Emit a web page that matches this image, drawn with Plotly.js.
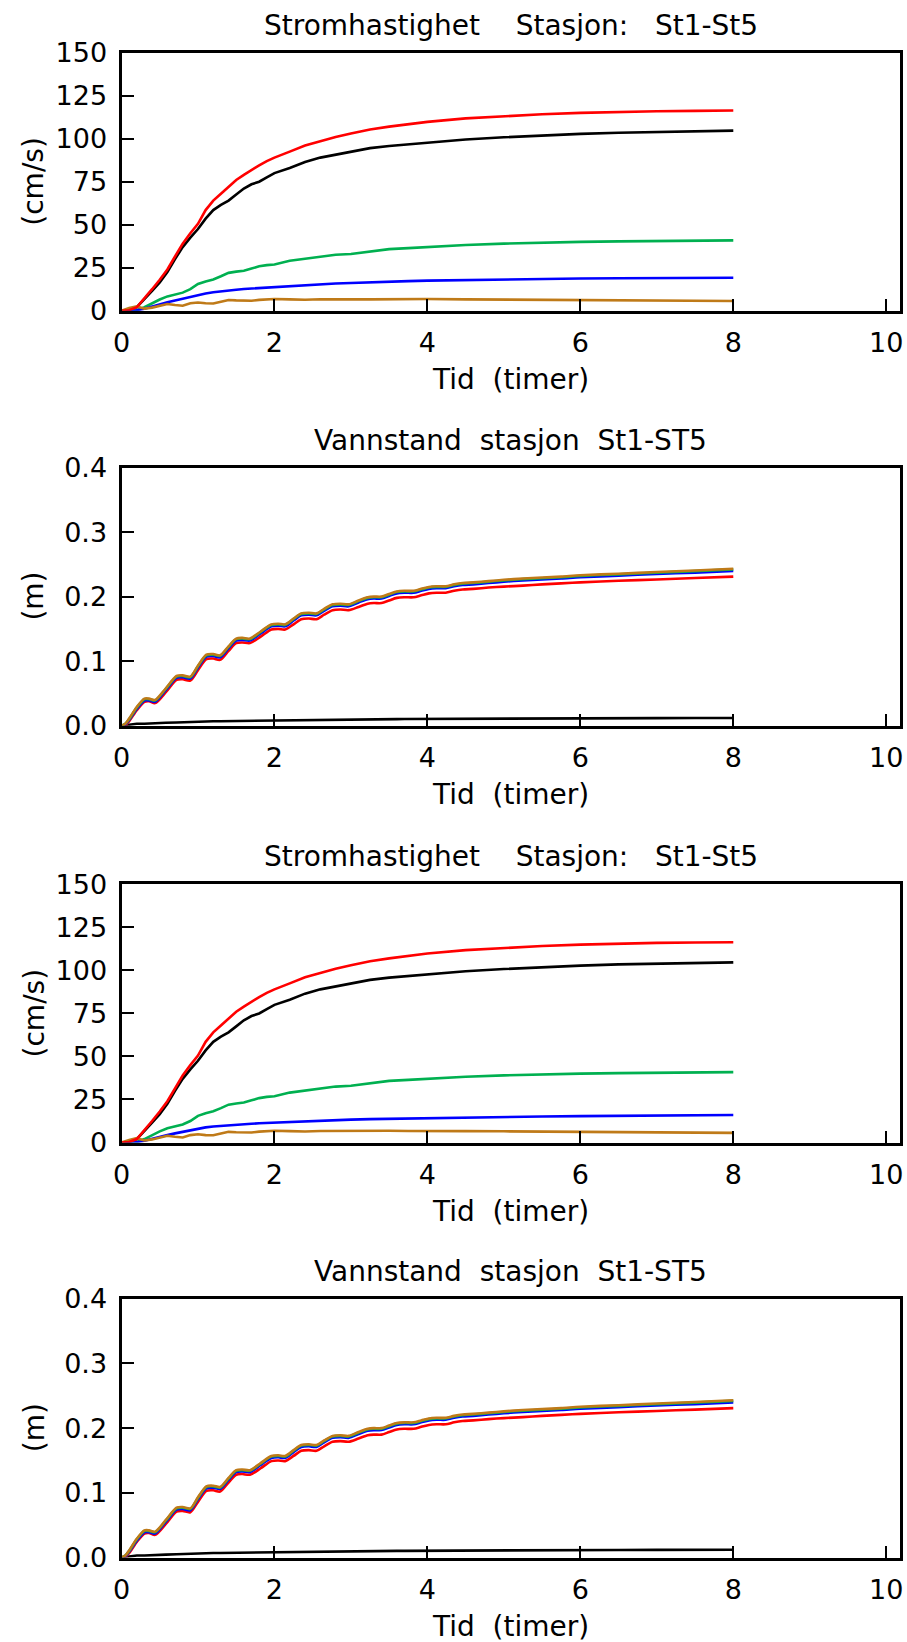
<!DOCTYPE html>
<html>
<head>
<meta charset="utf-8">
<script src="https://cdn.plot.ly/plotly-3.0.1.min.js"></script>
<style>
html,body{margin:0;padding:0;background:#fff;}
#chart{width:907px;height:1642px;}
</style>
</head>
<body>
<div id="chart"></div>
<script>
// ---------- Data ----------
const titleVel = "Stromhastighet\u00a0\u00a0\u00a0\u00a0Stasjon:\u00a0\u00a0\u00a0St1-St5";
const titleWL = "Vannstand\u00a0\u00a0stasjon\u00a0\u00a0St1-ST5";
const xTitle = "Tid\u00a0\u00a0(timer)";
const yTitleVel = "(cm/s)";
const yTitleWL = "(m)";

const xTickVals = [0, 2, 4, 6, 8, 10];
const velTickVals = [0, 25, 50, 75, 100, 125, 150];
const wlTickVals = [0, 0.1, 0.2, 0.3, 0.4];
const wlTickText = ["0.0", "0.1", "0.2", "0.3", "0.4"];

// time (hours) for current-speed series
const tVel = [0,0.1,0.2,0.3,0.4,0.5,0.6,0.7,0.8,0.9,1.0,1.1,1.2,1.3,1.4,1.5,1.6,1.7,1.8,1.9,2.0,2.2,2.4,2.6,2.8,3.0,3.25,3.5,3.75,4.0,4.5,5.0,5.5,6.0,6.5,7.0,7.5,8.0];

const velRed = [0,0.3,2,7,12.5,18,24,31.5,39,45,50.5,58.5,64,68,72,76,79,82,84.5,87,89,92.5,96,98.5,101,103,105.3,107,108.5,109.8,111.8,113.2,114.2,115,115.6,116,116.2,116.4];
const velBlack = [0,0.3,2,6.5,11.5,16.5,22.5,30,37,42.5,47.5,53.5,58.5,61.5,64,67.5,71,73.5,75,77.5,80,83,86.5,89,90.8,92.5,94.5,95.8,96.8,97.8,99.5,100.8,102,102.8,103.5,104,104.4,104.7];
const velGreen = [0,0,0.3,2,4.5,6.5,8.3,9.5,10.5,12.5,15.5,17,18.2,20,22,22.7,23.2,24.5,25.8,26.5,26.9,29,30.2,31.2,32.5,33,34.5,35.8,36.4,37.1,38.2,39,39.6,40,40.3,40.6,40.8,40.9];
const velBlue1 = [0,0,0.2,1.2,2.5,3.8,4.9,5.9,7,8,9,10,10.7,11.3,11.8,12.2,12.6,12.9,13.2,13.4,13.7,14.3,14.9,15.3,15.8,16.1,16.6,16.9,17.2,17.5,17.9,18.2,18.5,18.7,18.9,19,19.1,19.2];
const velBlue3 = [0,0,0.2,1,2.2,3.3,4.3,5.3,6.2,7.2,8.1,8.8,9.3,9.7,10.1,10.4,10.7,10.9,11.2,11.4,11.6,12,12.4,12.7,13,13.3,13.6,13.8,14,14.2,14.6,14.9,15.1,15.3,15.5,15.7,15.85,16];
const velBrown = [0,1.5,2.5,1.2,1.8,2.8,3.9,3.3,2.9,4.3,4.8,4.3,4.2,5.2,6.2,6,5.7,5.8,6.3,6.7,6.8,6.6,6.4,6.7,6.8,6.6,6.6,6.8,6.7,6.8,6.6,6.5,6.3,6.2,6.0,5.9,5.7,5.6];

// time (hours) for water-level series
const tWL = [0,0.05,0.1,0.2,0.3,0.36,0.44,0.58,0.72,0.8,0.9,1.0,1.11,1.2,1.29,1.4,1.5,1.58,1.68,1.82,1.96,2.05,2.14,2.25,2.35,2.45,2.55,2.65,2.76,2.86,2.97,3.1,3.22,3.3,3.4,3.5,3.6,3.7,3.82,3.92,4.02,4.12,4.24,4.35,4.46,4.6,4.8,5.0,5.25,5.5,5.75,6.0,6.5,7.0,7.5,8.0];

const wlBrown = [0,0.003,0.011,0.029,0.042,0.042,0.040,0.058,0.077,0.078,0.076,0.093,0.110,0.111,0.109,0.123,0.135,0.136,0.135,0.146,0.157,0.158,0.157,0.166,0.174,0.175,0.174,0.181,0.188,0.189,0.188,0.194,0.199,0.200,0.200,0.204,0.208,0.209,0.209,0.212,0.215,0.216,0.216,0.219,0.221,0.222,0.224,0.226,0.228,0.2295,0.231,0.233,0.2355,0.238,0.2405,0.2432];
const wlGreen = [0,0.003,0.010,0.028,0.041,0.041,0.039,0.057,0.076,0.077,0.075,0.092,0.109,0.110,0.108,0.122,0.134,0.135,0.134,0.145,0.156,0.157,0.156,0.165,0.173,0.174,0.173,0.180,0.187,0.188,0.187,0.193,0.198,0.199,0.199,0.203,0.207,0.208,0.208,0.211,0.214,0.215,0.215,0.218,0.220,0.221,0.223,0.225,0.227,0.2285,0.230,0.232,0.2345,0.237,0.2395,0.2422];
const wlBlue = [0,0.002,0.009,0.026,0.039,0.039,0.037,0.055,0.074,0.075,0.073,0.090,0.107,0.108,0.106,0.120,0.132,0.133,0.132,0.143,0.154,0.155,0.154,0.163,0.171,0.172,0.171,0.178,0.185,0.186,0.185,0.191,0.196,0.197,0.197,0.201,0.205,0.206,0.206,0.209,0.212,0.213,0.213,0.216,0.218,0.219,0.221,0.223,0.225,0.2265,0.228,0.230,0.2325,0.235,0.2372,0.2396];
const wlRed = [0,0.001,0.007,0.024,0.037,0.038,0.035,0.052,0.071,0.072,0.070,0.086,0.103,0.104,0.102,0.116,0.128,0.129,0.128,0.138,0.149,0.150,0.149,0.157,0.165,0.166,0.165,0.172,0.179,0.180,0.179,0.184,0.189,0.190,0.190,0.194,0.198,0.199,0.199,0.202,0.205,0.206,0.206,0.209,0.211,0.212,0.214,0.2155,0.217,0.219,0.2205,0.222,0.2245,0.2265,0.2287,0.2310];
const wlBlack = [0,0.001,0.002,0.003,0.003,0.0035,0.004,0.0045,0.005,0.0055,0.006,0.0065,0.0068,0.007,0.007,0.0072,0.0074,0.0076,0.0078,0.008,0.0082,0.0083,0.0084,0.0086,0.0087,0.0088,0.009,0.009,0.0092,0.0093,0.0094,0.0096,0.0098,0.0099,0.01,0.0101,0.0102,0.0103,0.0104,0.0105,0.0106,0.0107,0.0108,0.0109,0.011,0.011,0.0111,0.0112,0.0113,0.0114,0.0115,0.0116,0.0117,0.0118,0.0119,0.012];

// ---------- Styling ----------
const C = {
  black: "#000000",
  red: "#ff0000",
  green: "#00b050",
  blue: "#0000ff",
  brown: "#bf7a18"
};
const FONT = "DejaVu Sans, Liberation Sans, sans-serif";
const W = 907, H = 1642;
const LW = 2.6;
const TITLE_SIZE = 28;
const TICK_SIZE = 27;

// pixel layout of each panel (top, bottom)
const panels = [
  {top: 52.7, bot: 310.7},
  {top: 467.5, bot: 725.7},
  {top: 884.4, bot: 1142.5},
  {top: 1298.8, bot: 1557.5}
];
const xL = 121.5, xR = 900;

function line(x, y, color, ax, smooth) {
  const ln = {color: color, width: LW};
  if (smooth) { ln.shape = "spline"; ln.smoothing = 0.8; }
  return {x: x, y: y, type: "scatter", mode: "lines", xaxis: "x" + ax, yaxis: "y" + ax,
    line: ln, hoverinfo: "skip", showlegend: false};
}

const data = [
  // panel 1 : current speed
  line(tVel, velBlack, C.black, "", false),
  line(tVel, velGreen, C.green, "", false),
  line(tVel, velBlue1, C.blue, "", false),
  line(tVel, velBrown, C.brown, "", false),
  line(tVel, velRed, C.red, "", false),
  // panel 2 : water level
  line(tWL, wlBlack, C.black, "2", false),
  line(tWL, wlRed, C.red, "2", true),
  line(tWL, wlBlue, C.blue, "2", true),
  line(tWL, wlGreen, C.green, "2", true),
  line(tWL, wlBrown, C.brown, "2", true),
  // panel 3 : current speed
  line(tVel, velBlack, C.black, "3", false),
  line(tVel, velGreen, C.green, "3", false),
  line(tVel, velBlue3, C.blue, "3", false),
  line(tVel, velBrown, C.brown, "3", false),
  line(tVel, velRed, C.red, "3", false),
  // panel 4 : water level
  line(tWL, wlBlack, C.black, "4", false),
  line(tWL, wlRed, C.red, "4", true),
  line(tWL, wlBlue, C.blue, "4", true),
  line(tWL, wlGreen, C.green, "4", true),
  line(tWL, wlBrown, C.brown, "4", true)
];

function xAxis(i) {
  return {
    domain: [xL / W, xR / W],
    anchor: i === 0 ? "y" : "y" + (i + 1),
    range: [0, 10.18],
    tickvals: xTickVals,
    ticks: "inside", ticklen: 12, tickwidth: 2, tickcolor: "#000",
    showline: true, linewidth: 3, linecolor: "#000", mirror: true,
    showgrid: false, zeroline: false,
    tickfont: {family: FONT, size: TICK_SIZE, color: "#000"},
    ticklabelstandoff: 6,
    fixedrange: true
  };
}
function yAxis(i, vel) {
  const p = panels[i];
  const ax = {
    domain: [1 - p.bot / H, 1 - p.top / H],
    anchor: i === 0 ? "x" : "x" + (i + 1),
    ticks: "inside", ticklen: 12, tickwidth: 2, tickcolor: "#000",
    showline: true, linewidth: 3, linecolor: "#000", mirror: true,
    showgrid: false, zeroline: false,
    tickfont: {family: FONT, size: TICK_SIZE, color: "#000"},
    ticklabelstandoff: 6,
    fixedrange: true
  };
  if (vel) { ax.range = [0, 150]; ax.tickvals = velTickVals; }
  else { ax.range = [0, 0.4]; ax.tickvals = wlTickVals; ax.ticktext = wlTickText; }
  return ax;
}

const annotations = [];
const titles = [titleVel, titleWL, titleVel, titleWL];
const yTitles = [yTitleVel, yTitleWL, yTitleVel, yTitleWL];
panels.forEach((p, i) => {
  const cx = (xL + xR) / 2 / W;
  annotations.push({text: titles[i], xref: "paper", yref: "paper", x: cx, y: 1 - (p.top - 27.5) / H,
    xanchor: "center", yanchor: "middle", showarrow: false, font: {family: FONT, size: TITLE_SIZE, color: "#000"}});
  annotations.push({text: xTitle, xref: "paper", yref: "paper", x: cx, y: 1 - (p.bot + 69) / H,
    xanchor: "center", yanchor: "middle", showarrow: false, font: {family: FONT, size: TITLE_SIZE, color: "#000"}});
  annotations.push({text: yTitles[i], xref: "paper", yref: "paper", x: 34 / W, y: 1 - (p.top + p.bot) / 2 / H,
    xanchor: "center", yanchor: "middle", textangle: -90, showarrow: false, font: {family: FONT, size: TITLE_SIZE, color: "#000"}});
});

const layout = {
  width: W, height: H,
  margin: {l: 0, r: 0, t: 0, b: 0, pad: 0},
  paper_bgcolor: "#fff", plot_bgcolor: "#fff",
  showlegend: false,
  xaxis: xAxis(0), yaxis: yAxis(0, true),
  xaxis2: xAxis(1), yaxis2: yAxis(1, false),
  xaxis3: xAxis(2), yaxis3: yAxis(2, true),
  xaxis4: xAxis(3), yaxis4: yAxis(3, false),
  annotations: annotations
};

Plotly.newPlot("chart", data, layout, {staticPlot: true, displayModeBar: false});
</script>
</body>
</html>
